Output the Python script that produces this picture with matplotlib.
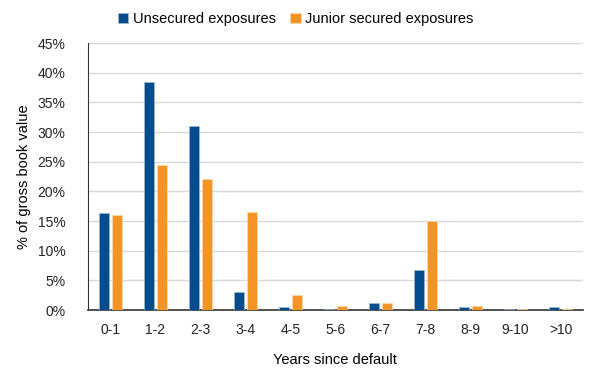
import matplotlib.pyplot as plt
import numpy as np

plt.rcParams['font.family'] = ['Liberation Sans', 'DejaVu Sans']

# Share of gross book value by years since default
years = ['0-1', '1-2', '2-3', '3-4', '4-5', '5-6', '6-7', '7-8', '8-9', '9-10', '>10']
unsecured = [16.3, 38.4, 31.0, 3.0, 0.5, 0.17, 1.18, 6.8, 0.45, 0.15, 0.5]
junior_secured = [16.1, 24.4, 22.0, 16.6, 2.5, 0.6, 1.24, 15.0, 0.67, 0.1, 0.15]

blue = '#004C8C'
orange = '#F39426'

fig = plt.figure(figsize=(5.89, 3.74), dpi=100)
ax = fig.add_axes([0.149, 0.171, 0.841, 0.714])

x = np.arange(len(years))
w = 0.22
ax.bar(x - 0.145, unsecured, width=w, color=blue, edgecolor='#9fb8d0', linewidth=0.5,
       label='Unsecured exposures', zorder=3)
ax.bar(x + 0.145, junior_secured, width=w, color=orange, edgecolor='#fbd9b0', linewidth=0.5,
       label='Junior secured exposures', zorder=3)

ax.set_xlim(-0.5, len(years) - 0.5)
ax.set_ylim(0, 45)
ax.set_yticks(np.arange(0, 46, 5))
ax.set_yticklabels([f'{v}%' for v in range(0, 46, 5)])
ax.set_xticks(x)
ax.set_xticklabels(years)
ax.tick_params(axis='both', length=0, labelsize=10, colors='#222222')
ax.tick_params(axis='x', pad=9)
ax.tick_params(axis='y', pad=16)

ax.grid(axis='y', color='#d9d9d9', linewidth=1, zorder=0)
for side in ['top', 'right']:
    ax.spines[side].set_visible(False)
ax.spines['left'].set_color('#333333')
ax.spines['bottom'].set_color('#333333')
ax.spines['bottom'].set_linewidth(1.2)

ax.set_ylabel('% of gross book value', fontsize=10.5, labelpad=5)
ax.set_xlabel('Years since default', fontsize=10.5, labelpad=12)

ax.legend(loc='lower center', bbox_to_anchor=(0.42, 1.04), ncol=2, frameon=False,
          fontsize=10.5, handlelength=0.7, handleheight=0.7, handletextpad=0.3,
          columnspacing=1.0, borderaxespad=0)

fig.savefig('out.png', dpi=100)
